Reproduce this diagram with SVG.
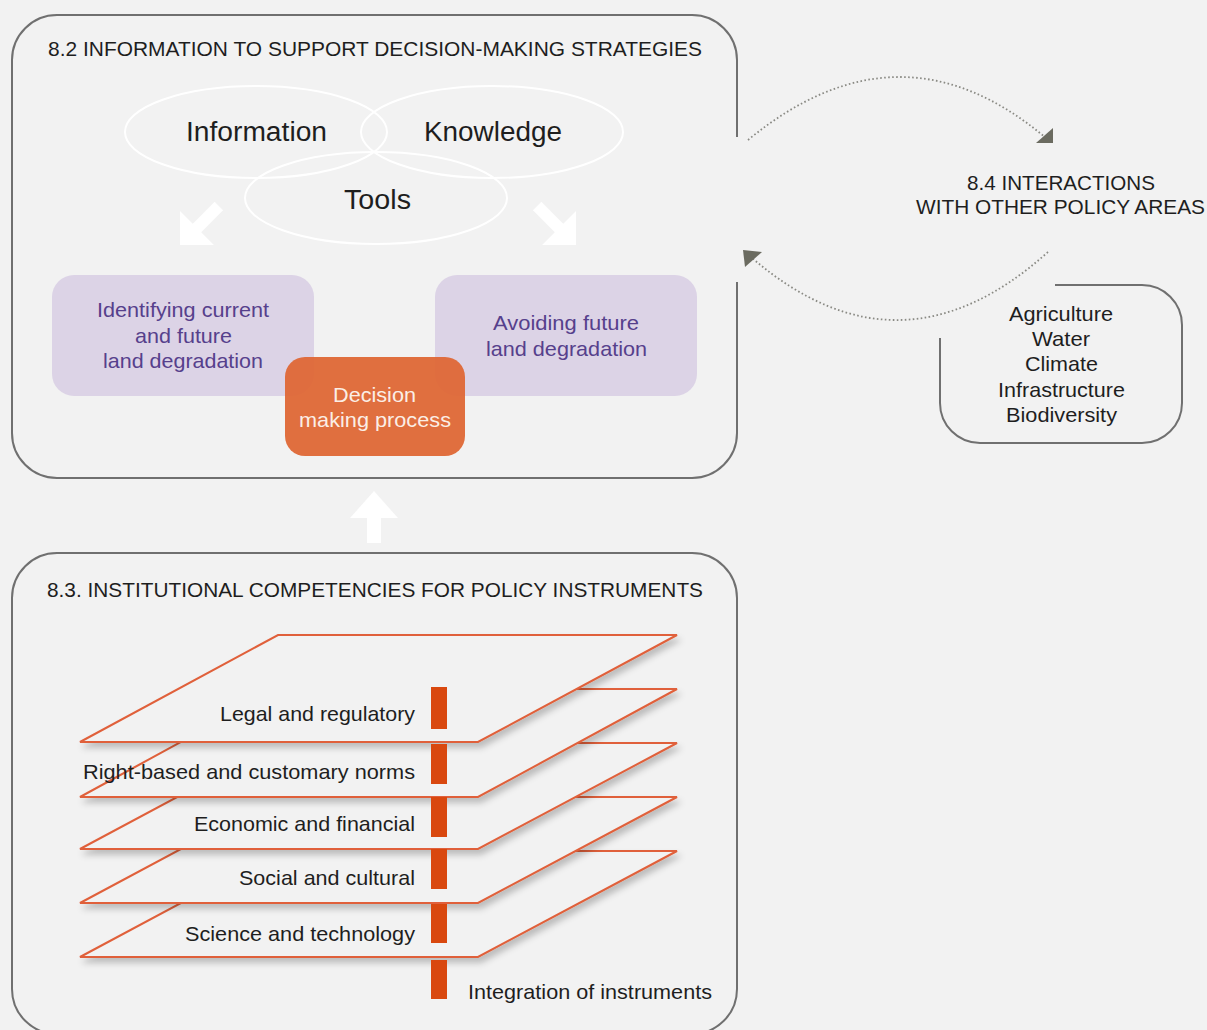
<svg xmlns="http://www.w3.org/2000/svg" width="1207" height="1030" viewBox="0 0 1207 1030">
<style>
text{font-family:"Liberation Sans",Arial,sans-serif;fill:#1e1e1e}
.frame{fill:none;stroke:#707070;stroke-width:2}
.ell{fill:none;stroke:#ffffff;stroke-width:2}
.big{font-size:27px}
.t{font-size:21px}
.purp{fill:#dcd3e6}
.ptxt{font-size:21px;fill:#56408c}
.layer{fill:#f2f2f2;stroke:#e0603a;stroke-width:2;filter:url(#sh)}
.bar{fill:#d9480f}
.dot{fill:none;stroke:#8a8a84;stroke-width:1.8;stroke-dasharray:1.6 2.4}
.head{fill:#6b6b60}
</style>
<defs>
<filter id="sh" x="-10%" y="-20%" width="130%" height="160%">
<feDropShadow dx="3" dy="5" stdDeviation="3" flood-color="#000" flood-opacity="0.22"/>
</filter>
</defs>
<rect width="1207" height="1030" fill="#f2f2f2"/>

<g id="box82">
<path class="frame" d="M737,137 V60 A45,45 0 0 0 692,15 H57 A45,45 0 0 0 12,60 V433 A45,45 0 0 0 57,478 H692 A45,45 0 0 0 737,433 V282"/>
<text x="48" y="56" class="t" textLength="654" lengthAdjust="spacingAndGlyphs">8.2 INFORMATION TO SUPPORT DECISION-MAKING STRATEGIES</text>
</g>

<g id="venn">
<ellipse class="ell" cx="256" cy="132" rx="131" ry="46"/>
<ellipse class="ell" cx="492" cy="132" rx="131" ry="46"/>
<ellipse class="ell" cx="376" cy="198" rx="131" ry="46"/>
<text x="186" y="141" class="big" textLength="141" lengthAdjust="spacingAndGlyphs">Information</text>
<text x="424" y="141" class="big" textLength="138" lengthAdjust="spacingAndGlyphs">Knowledge</text>
<text x="344" y="209" class="big" textLength="67" lengthAdjust="spacingAndGlyphs">Tools</text>
</g>

<g id="arrows-white">
<polygon fill="#ffffff" transform="translate(180,245) rotate(135)" points="0,0 -24,-24 -24,-6 -55,-6 -55,6 -24,6 -24,24"/>
<polygon fill="#ffffff" transform="translate(576,245) rotate(45)" points="0,0 -24,-24 -24,-6 -55,-6 -55,6 -24,6 -24,24"/>
<polygon fill="#ffffff" points="374,491 398,518 381,518 381,543 367,543 367,518 350,518"/>
</g>

<g id="identify">
<rect class="purp" x="52" y="275" width="262" height="121" rx="22"/>
<text x="97" y="317" class="ptxt" textLength="172" lengthAdjust="spacingAndGlyphs">Identifying current</text>
<text x="135" y="343" class="ptxt" textLength="97" lengthAdjust="spacingAndGlyphs">and future</text>
<text x="103" y="368" class="ptxt" textLength="160" lengthAdjust="spacingAndGlyphs">land degradation</text>
</g>

<g id="avoid">
<rect class="purp" x="435" y="275" width="262" height="121" rx="22"/>
<text x="493" y="330" class="ptxt" textLength="146" lengthAdjust="spacingAndGlyphs">Avoiding future</text>
<text x="486" y="356" class="ptxt" textLength="161" lengthAdjust="spacingAndGlyphs">land degradation</text>
</g>

<g id="decision">
<rect x="285" y="357" width="180" height="99" rx="20" fill="#df6531" fill-opacity="0.93"/>
<text x="333" y="402" class="t" style="fill:#fbeee6" textLength="83" lengthAdjust="spacingAndGlyphs">Decision</text>
<text x="299" y="427" class="t" style="fill:#fbeee6" textLength="152" lengthAdjust="spacingAndGlyphs">making process</text>
</g>

<g id="connectors">
<path class="dot" d="M748,140 Q900,15 1046,138"/>
<polygon class="head" points="1036,143 1053,128 1053,143"/>
<path class="dot" d="M1048,252 Q900,385 752,258"/>
<polygon class="head" points="743,250 762,252 745,267"/>
</g>

<g id="box84">
<text x="967" y="190" class="t" textLength="188" lengthAdjust="spacingAndGlyphs">8.4 INTERACTIONS</text>
<text x="916" y="214" class="t" textLength="289" lengthAdjust="spacingAndGlyphs">WITH OTHER POLICY AREAS</text>
</g>

<g id="areas">
<path class="frame" d="M1055,285 H1142 A40,40 0 0 1 1182,325 V403 A40,40 0 0 1 1142,443 H980 A40,40 0 0 1 940,403 V338"/>
<text x="1009" y="321" class="t" textLength="104" lengthAdjust="spacingAndGlyphs">Agriculture</text>
<text x="1032" y="346" class="t" textLength="58" lengthAdjust="spacingAndGlyphs">Water</text>
<text x="1025" y="371" class="t" textLength="73" lengthAdjust="spacingAndGlyphs">Climate</text>
<text x="998" y="397" class="t" textLength="127" lengthAdjust="spacingAndGlyphs">Infrastructure</text>
<text x="1006" y="422" class="t" textLength="111" lengthAdjust="spacingAndGlyphs">Biodiversity</text>
</g>

<g id="box83">
<rect class="frame" x="12" y="553" width="725" height="481" rx="45" ry="45"/>
<text x="47" y="597" class="t" textLength="656" lengthAdjust="spacingAndGlyphs">8.3. INSTITUTIONAL COMPETENCIES FOR POLICY INSTRUMENTS</text>
</g>

<g id="layers">
<polygon class="layer" points="278,851 677,851 478,957 80,957"/>
<polygon class="layer" points="278,797 677,797 478,903 80,903"/>
<polygon class="layer" points="278,743 677,743 478,849 80,849"/>
<polygon class="layer" points="278,689 677,689 478,797 80,797"/>
<polygon class="layer" points="278,635 677,635 478,742 80,742"/>
</g>

<g id="integration">
<rect class="bar" x="431" y="687" width="16" height="42"/>
<rect class="bar" x="431" y="744" width="16" height="40"/>
<rect class="bar" x="431" y="797" width="16" height="40"/>
<rect class="bar" x="431" y="849" width="16" height="40"/>
<rect class="bar" x="431" y="904" width="16" height="39"/>
<rect class="bar" x="431" y="960" width="16" height="39"/>
<text x="468" y="999" class="t" textLength="244" lengthAdjust="spacingAndGlyphs">Integration of instruments</text>
</g>

<g id="layer-labels">
<text x="220" y="721" class="t" textLength="195" lengthAdjust="spacingAndGlyphs">Legal and regulatory</text>
<text x="83" y="779" class="t" textLength="332" lengthAdjust="spacingAndGlyphs">Right-based and customary norms</text>
<text x="194" y="831" class="t" textLength="221" lengthAdjust="spacingAndGlyphs">Economic and financial</text>
<text x="239" y="885" class="t" textLength="176" lengthAdjust="spacingAndGlyphs">Social and cultural</text>
<text x="185" y="941" class="t" textLength="230" lengthAdjust="spacingAndGlyphs">Science and technology</text>
</g>
</svg>
